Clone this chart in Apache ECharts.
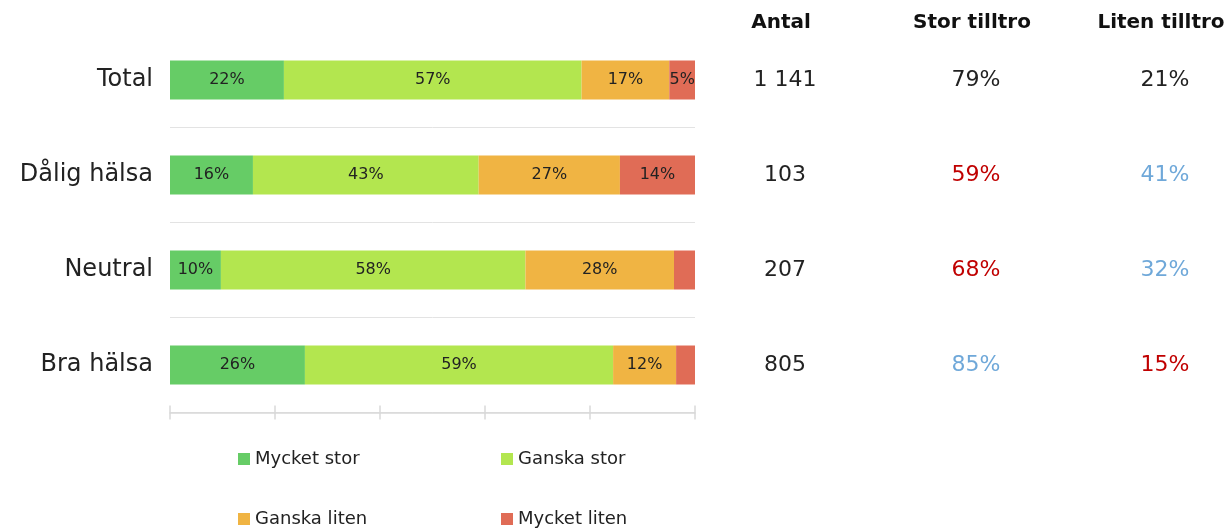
<!DOCTYPE html>
<html>
<head>
<meta charset="utf-8">
<script src="https://cdn.jsdelivr.net/npm/echarts@6/dist/echarts.min.js"></script>
<style>
  html, body { margin: 0; padding: 0; background: #fff; }
  #chart { width: 1227px; height: 528px; }
</style>
</head>
<body>
<div id="chart"></div>
<script>
  // kategorier och andelar (%)
  const categories = ['Total', 'Dålig hälsa', 'Neutral', 'Bra hälsa']
  const mycketStor = [21.7, 15.8, 9.7, 25.7]
  const ganskaStor = [56.7, 43.0, 58.0, 58.7]
  const ganskaLiten = [16.7, 26.9, 28.3, 12.0]
  const mycketLiten = [4.9, 14.3, 4.0, 3.6]

  // tabellen till höger
  const antal = ['1 141', '103', '207', '805']
  const storTilltro = ['79%', '59%', '68%', '85%']
  const litenTilltro = ['21%', '41%', '32%', '15%']
  const storColor = ['k', 'r', 'r', 'b']
  const litenColor = ['k', 'b', 'b', 'r']

  const FONT = 'DejaVu Sans'
  const colors = ['#66cc66', '#b3e64f', '#f0b443', '#e06c56']
  const names = ['Mycket stor', 'Ganska stor', 'Ganska liten', 'Mycket liten']
  const values = [mycketStor, ganskaStor, ganskaLiten, mycketLiten]

  const rich = {
    k: { color: '#222', fontSize: 22, fontFamily: FONT },
    r: { color: '#c00000', fontSize: 22, fontFamily: FONT },
    b: { color: '#6fa8d9', fontSize: 22, fontFamily: FONT }
  }

  function tableAxis(name, offset, list, colorList) {
    return {
      type: 'category',
      data: categories,
      inverse: true,
      position: 'right',
      offset: offset,
      axisLine: { show: false, onZero: false },
      axisTick: { show: false },
      splitLine: { show: false },
      axisLabel: {
        margin: 0,
        align: 'center',
        rich: rich,
        formatter: function (v, i) {
          return '{' + (colorList ? colorList[i] : 'k') + '|' + list[i] + '}'
        }
      },
      name: name,
      nameLocation: 'start',
      nameGap: 10,
      nameTextStyle: {
        align: 'center',
        verticalAlign: 'middle',
        fontFamily: FONT,
        fontWeight: 'bold',
        fontSize: 20,
        color: '#111',
        padding: [0, 8, 0, 0]
      }
    }
  }

  // en legend per post så att kolumnerna linjerar
  const legendPos = [[233, 445], [496, 445], [233, 505], [496, 505]]
  const legends = names.map((n, k) => ({
    data: [n],
    left: legendPos[k][0],
    top: legendPos[k][1],
    itemWidth: 12,
    itemHeight: 12,
    itemTextGap: 3,
    icon: 'rect',
    textStyle: { fontFamily: FONT, fontSize: 18, color: '#222' }
  }))

  const chart = echarts.init(document.getElementById('chart'))
  const option = {
    animation: false,
    grid: { left: 170, right: 532, top: 32.5, bottom: 115.5, containLabel: false },
    legend: legends,
    xAxis: [
      {
        type: 'value',
        min: 0,
        max: 100,
        interval: 20,
        axisLine: { show: true, onZero: false, lineStyle: { color: '#d9d9d9', width: 1.5 } },
        axisTick: { show: true, length: 7, lineStyle: { color: '#d9d9d9', width: 1.5 } },
        axisLabel: { show: false },
        splitLine: { show: false }
      },
      {
        // ticks uppåt också, så att de korsar axellinjen
        type: 'value',
        position: 'bottom',
        min: 0,
        max: 100,
        interval: 20,
        axisLine: { show: false, onZero: false },
        axisTick: { show: true, inside: true, length: 7, lineStyle: { color: '#d9d9d9', width: 1.5 } },
        axisLabel: { show: false },
        splitLine: { show: false }
      }
    ],
    yAxis: [
      {
        type: 'category',
        data: categories,
        inverse: true,
        axisLine: { show: false, onZero: false },
        axisTick: { show: false },
        axisLabel: {
          margin: 17,
          fontFamily: FONT,
          fontSize: 24,
          color: '#222'
        },
        splitLine: { show: true, showMinLine: false, lineStyle: { color: '#e3e3e3', width: 1 } }
      },
      tableAxis('Antal', 90, antal, null),
      tableAxis('Stor tilltro', 281, storTilltro, storColor),
      tableAxis('Liten tilltro', 470, litenTilltro, litenColor)
    ],
    series: values.map((arr, k) => ({
      name: names[k],
      type: 'bar',
      stack: 'total',
      barWidth: 39,
      data: arr,
      itemStyle: { color: colors[k] },
      label: {
        show: true,
        position: 'inside',
        fontFamily: FONT,
        fontSize: 16,
        color: '#222',
        formatter: function (p) {
          const v = Math.round(p.value)
          return v >= 5 ? v + '%' : ''
        }
      }
    }))
  }
  chart.setOption(option)
</script>
</body>
</html>
